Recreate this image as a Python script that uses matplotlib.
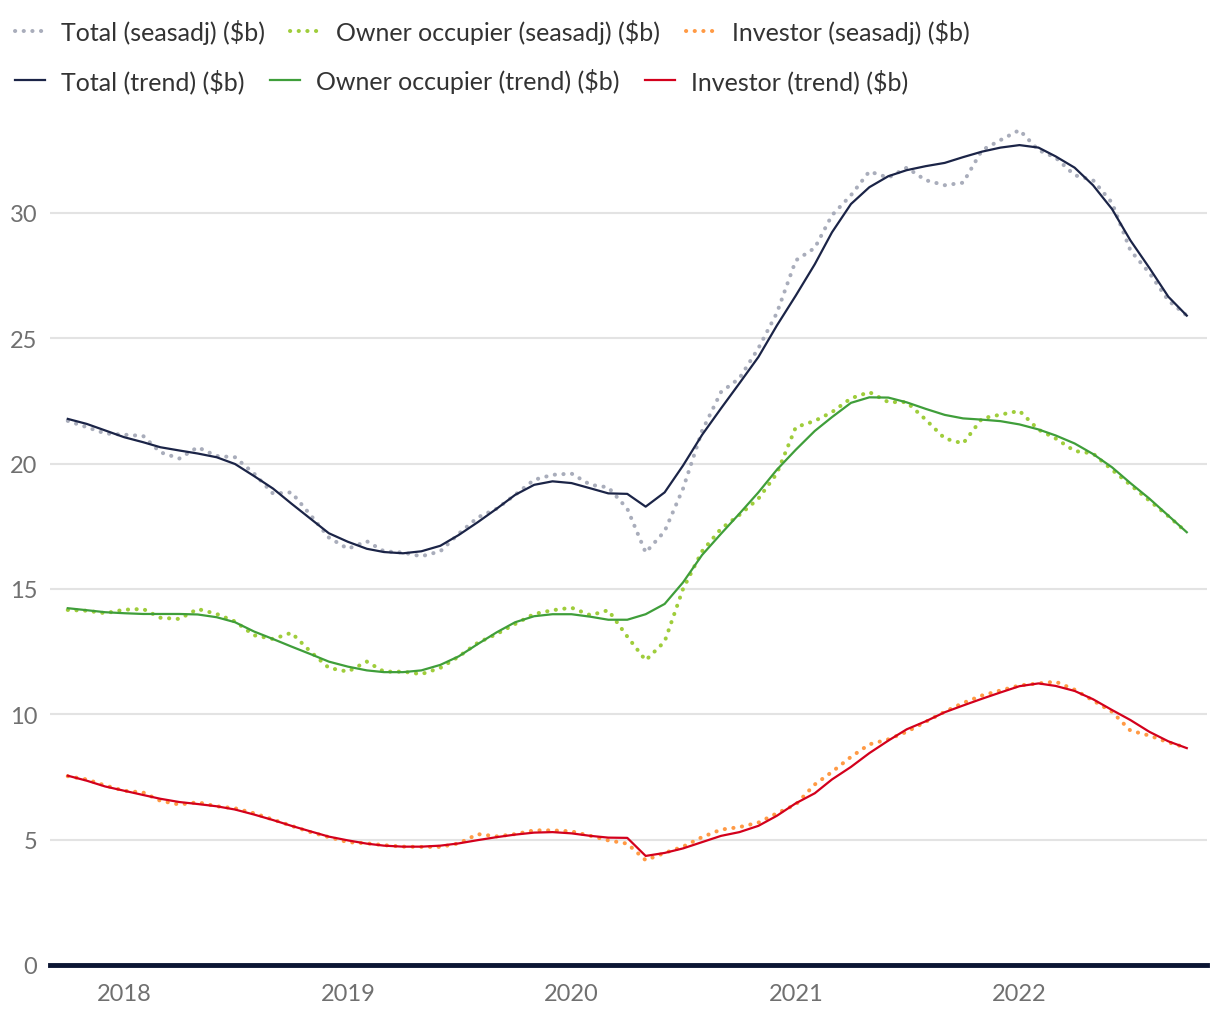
import numpy as np
import pandas as pd
import matplotlib
matplotlib.use("Agg")
from matplotlib import pyplot as plt
import matplotlib.dates as mdates

plt.rcParams['font.family'] = ['Lato', 'DejaVu Sans']

# monthly data, Oct 2017 - Oct 2022
months = pd.date_range('2017-10-01', '2022-10-01', freq='MS')

total_sa = [21.7, 21.45, 21.2, 21.15, 21.1, 20.45, 20.2, 20.65, 20.3, 20.25,
            19.6, 18.8, 18.85, 17.95, 17.05, 16.6, 16.9, 16.5, 16.45, 16.3,
            16.5, 17.2, 17.85, 18.2, 18.75, 19.35, 19.55, 19.6, 19.15, 19.05,
            18.2, 16.45, 17.3, 19.0, 21.3, 22.85, 23.4, 24.6, 26.0, 28.1,
            28.6, 29.9, 30.7, 31.65, 31.4, 31.8, 31.3, 31.1, 31.2, 32.5,
            32.9, 33.3, 32.5, 32.2, 31.5, 31.3, 30.4, 28.5, 27.6, 26.5, 25.9]
owner_sa = [14.16, 14.13, 14.03, 14.17, 14.2, 13.85, 13.8, 14.2, 14.0, 13.7,
            13.15, 13.0, 13.25, 12.5, 11.85, 11.7, 12.1, 11.7, 11.7, 11.6,
            11.85, 12.3, 12.85, 13.2, 13.6, 14.0, 14.15, 14.25, 13.95, 14.15,
            13.1, 12.15, 12.9, 15.0, 16.5, 17.4, 17.95, 18.6, 19.6, 21.45,
            21.7, 22.05, 22.6, 22.85, 22.45, 22.45, 21.75, 21.0, 20.8, 21.8,
            21.95, 22.1, 21.35, 21.0, 20.5, 20.4, 19.75, 19.15, 18.52, 17.9, 17.25]
investor_sa = [7.53, 7.4, 7.16, 6.95, 6.88, 6.55, 6.4, 6.49, 6.33, 6.25,
               6.05, 5.8, 5.55, 5.3, 5.1, 4.9, 4.85, 4.78, 4.72, 4.71,
               4.71, 4.85, 5.22, 5.13, 5.22, 5.37, 5.37, 5.33, 5.15, 4.97,
               4.84, 4.18, 4.47, 4.72, 5.1, 5.4, 5.5, 5.68, 6.05, 6.4,
               7.2, 7.7, 8.3, 8.8, 9.0, 9.3, 9.7, 10.1, 10.45, 10.75,
               10.95, 11.15, 11.23, 11.3, 10.98, 10.55, 10.1, 9.35, 9.15, 8.88, 8.66]

total_tr = [21.78, 21.58, 21.32, 21.05, 20.85, 20.65, 20.52, 20.4, 20.25, 19.98,
            19.5, 19.0, 18.4, 17.8, 17.22, 16.88, 16.6, 16.47, 16.42, 16.5,
            16.72, 17.15, 17.66, 18.2, 18.75, 19.15, 19.29, 19.22, 19.01, 18.81,
            18.79, 18.28, 18.85, 19.92, 21.14, 22.2, 23.2, 24.25, 25.5, 26.7,
            27.95, 29.22, 30.35, 31.02, 31.46, 31.7, 31.86, 31.99, 32.22, 32.44,
            32.6, 32.7, 32.6, 32.25, 31.8, 31.1, 30.15, 28.9, 27.8, 26.65, 25.9]
owner_tr = [14.23, 14.15, 14.07, 14.03, 14.0, 14.0, 14.0, 13.98, 13.87, 13.67,
            13.3, 13.0, 12.7, 12.4, 12.1, 11.9, 11.75, 11.68, 11.68, 11.75,
            11.97, 12.31, 12.8, 13.27, 13.67, 13.91, 13.99, 13.99, 13.89, 13.77,
            13.77, 13.99, 14.4, 15.26, 16.35, 17.2, 18.0, 18.85, 19.75, 20.55,
            21.3, 21.85, 22.42, 22.64, 22.63, 22.44, 22.18, 21.94, 21.8, 21.75,
            21.69, 21.56, 21.36, 21.12, 20.8, 20.38, 19.85, 19.22, 18.6, 17.92, 17.26]
investor_tr = [7.55, 7.35, 7.12, 6.95, 6.78, 6.63, 6.5, 6.42, 6.33, 6.2,
               6.0, 5.78, 5.55, 5.33, 5.12, 4.97, 4.84, 4.76, 4.72, 4.72,
               4.76, 4.85, 4.98, 5.1, 5.2, 5.28, 5.3, 5.25, 5.15, 5.08,
               5.07, 4.35, 4.47, 4.65, 4.9, 5.15, 5.3, 5.55, 5.95, 6.45,
               6.85, 7.4, 7.9, 8.45, 8.95, 9.4, 9.72, 10.08, 10.35, 10.62,
               10.87, 11.12, 11.23, 11.13, 10.93, 10.6, 10.17, 9.77, 9.3, 8.92, 8.65]

years = [2018, 2019, 2020, 2021, 2022]

fig = plt.figure(figsize=(12.2, 10.2), dpi=100)
ax = fig.add_axes([50/1220, 54/1020, 1157/1220, 852.5/1020])

# seasonally adjusted series (round dots)
dots = dict(lw=2.9, ls=(0, (0.05, 2.1)), dash_capstyle='round')
sa1, = ax.plot(months, total_sa, color='#a9adbb', **dots)
sa2, = ax.plot(months, owner_sa, color='#9fcd3b', **dots)
sa3, = ax.plot(months, investor_sa, color='#ff9a45', **dots)

# trend series
tr1, = ax.plot(months, total_tr, color='#1b2447', lw=1.6)
tr2, = ax.plot(months, owner_tr, color='#3f9e3a', lw=1.6)
tr3, = ax.plot(months, investor_tr, color='#d3001c', lw=1.6)

ax.set_ylim(0, 34)
ax.set_xlim(months[0] - pd.Timedelta(days=29), months[-1] + pd.Timedelta(days=33))
ax.set_yticks([0, 5, 10, 15, 20, 25, 30])
ax.yaxis.grid(True, color='#e3e3e3', lw=1.5)
ax.set_axisbelow(True)
ax.axhline(0, color='#0b1533', lw=3.5, zorder=5, clip_on=False)

ax.set_xticks([pd.Timestamp(str(y) + '-01-01') for y in years])
ax.xaxis.set_major_formatter(mdates.DateFormatter('%Y'))

for s in ax.spines.values():
    s.set_visible(False)
ax.tick_params(axis='both', length=0, labelsize=17, labelcolor='#707070')
ax.tick_params(axis='x', pad=13)
ax.tick_params(axis='y', pad=9)

# legend, two rows
leg_kw = dict(frameon=False, fontsize=18, handlelength=1.2, handletextpad=0.65,
              columnspacing=1.0, ncol=3, borderaxespad=0, borderpad=0, labelcolor='#333333')
leg1 = fig.legend([sa1, sa2, sa3],
                  ['Total (seasadj) ($b)', 'Owner occupier (seasadj) ($b)', 'Investor (seasadj) ($b)'],
                  loc='upper left', bbox_to_anchor=(15/1220, 1 - 20/1020), **leg_kw)
leg2 = fig.legend([tr1, tr2, tr3],
                  ['Total (trend) ($b)', 'Owner occupier (trend) ($b)', 'Investor (trend) ($b)'],
                  loc='upper left', bbox_to_anchor=(15/1220, 1 - 69/1020), **leg_kw)

fig.savefig('out.png', dpi=100)
